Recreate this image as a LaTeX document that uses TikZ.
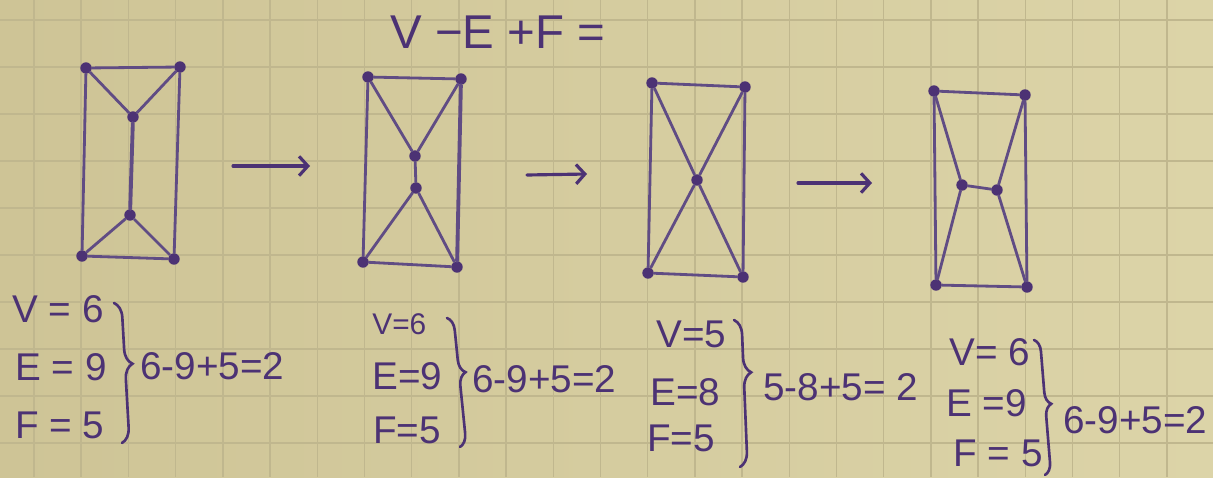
\documentclass[tikz,border=0pt]{standalone}
\usepackage{fontspec}
\setmainfont{Liberation Sans}
\usetikzlibrary{arrows.meta,decorations.pathreplacing}
\definecolor{paper}{RGB}{206,196,150}
\definecolor{paperlight}{RGB}{220,212,168}
\definecolor{gridc}{RGB}{192,183,142}
\definecolor{ink}{RGB}{76,50,116}
\definecolor{edgec}{RGB}{96,76,132}
\begin{document}
\begin{tikzpicture}[x=0.02cm,y=-0.02cm,
  vtx/.style={circle,fill=ink,inner sep=0pt,minimum size=6.5pt},
  edge/.style={draw=edgec,line width=1.6pt,line cap=round},
  lbl/.style={text=ink,font=\fontsize{22}{24}\selectfont,inner sep=0pt,anchor=west},
  small/.style={font=\fontsize{17}{19}\selectfont},
  ttl/.style={text=ink,font=\fontsize{27}{30}\selectfont,inner sep=0pt,anchor=west},
  arr/.style={draw=ink,line width=1.8pt,line cap=round,-{Straight Barb[length=5pt,width=11pt,line width=1.8pt]}},
  brc/.style={draw=ink,line width=1.5pt,line cap=round,decorate,decoration={brace,amplitude=#1}}
]
% paper
\useasboundingbox (0,0) rectangle (1213,477);
\shade[left color=paper,right color=paperlight] (0,0) rectangle (1213,477);
\foreach \k in {0,...,25} {\draw[gridc,line width=0.8pt] ({34+47.2*\k},0) -- ++(0,477);}
\foreach \k in {0,...,9} {\draw[gridc,line width=0.8pt] (0,{20+47*\k}) -- ++(1213,0);}

% title
\node[ttl] (title) at (390,32) {V −E +F =};

% graph 1
\node[vtx] (a1) at (86,68) {};
\node[vtx] (a2) at (180,67) {};
\node[vtx] (a3) at (133,117) {};
\node[vtx] (a4) at (130,215) {};
\node[vtx] (a5) at (82,256) {};
\node[vtx] (a6) at (174,259) {};
\draw[edge] (a1) -- (a2);
\draw[edge] (a1) -- (a3);
\draw[edge] (a2) -- (a3);
\draw[edge,line width=2.2pt] (a3) -- (a4);
\draw[edge] (a4) -- (a5);
\draw[edge] (a4) -- (a6);
\draw[edge] (a5) -- (a6);
\draw[edge] (a1) -- (a5);
\draw[edge] (a2) -- (a6);

% graph 2
\node[vtx] (b1) at (368,77) {};
\node[vtx] (b2) at (461,79) {};
\node[vtx] (b3) at (415,156) {};
\node[vtx] (b4) at (416,188) {};
\node[vtx] (b5) at (363,262) {};
\node[vtx] (b6) at (457,267) {};
\draw[edge] (b1) -- (b2);
\draw[edge] (b1) -- (b3);
\draw[edge] (b2) -- (b3);
\draw[edge] (b3) -- (b4);
\draw[edge] (b4) -- (b5);
\draw[edge] (b4) -- (b6);
\draw[edge] (b5) -- (b6);
\draw[edge] (b1) -- (b5);
\draw[edge,line width=2.2pt] (b2) -- (b6);

% graph 3
\node[vtx] (c1) at (652,83) {};
\node[vtx] (c2) at (745,87) {};
\node[vtx] (c3) at (697,180) {};
\node[vtx] (c4) at (648,273) {};
\node[vtx] (c5) at (743,277) {};
\draw[edge] (c1) -- (c2);
\draw[edge] (c1) -- (c3);
\draw[edge] (c2) -- (c3);
\draw[edge] (c3) -- (c4);
\draw[edge] (c3) -- (c5);
\draw[edge] (c4) -- (c5);
\draw[edge] (c1) -- (c4);
\draw[edge] (c2) -- (c5);

% graph 4
\node[vtx] (d1) at (934,91) {};
\node[vtx] (d2) at (1025,95) {};
\node[vtx] (d3) at (962,185) {};
\node[vtx] (d4) at (997,190) {};
\node[vtx] (d5) at (936,285) {};
\node[vtx] (d6) at (1027,287) {};
\draw[edge] (d1) -- (d2);
\draw[edge] (d1) -- (d3);
\draw[edge] (d2) -- (d4);
\draw[edge] (d3) -- (d4);
\draw[edge] (d3) -- (d5);
\draw[edge] (d4) -- (d6);
\draw[edge] (d5) -- (d6);
\draw[edge] (d1) -- (d5);
\draw[edge] (d2) -- (d6);

% arrows
\coordinate (p1s) at (233,166); \coordinate (p1e) at (310,166);
\coordinate (p2s) at (527,175); \coordinate (p2e) at (587,174);
\coordinate (p3s) at (798,183); \coordinate (p3e) at (872,183);
\draw[arr] (p1s) -- (p1e);
\draw[arr] (p2s) -- (p2e);
\draw[arr] (p3s) -- (p3e);

% block 1
\node[lbl] (v1) at (12,309) {V = 6};
\node[lbl] (e1) at (15,367) {E = 9};
\node[lbl] (f1) at (15,425) {F = 5};
\coordinate (r1t) at (114,303); \coordinate (r1b) at (122,443);
\draw[brc=0.3cm,decoration={aspect=0.44}] (r1t) -- (r1b);
\node[lbl] (q1) at (140,366) {6-9+5=2};

% block 2
\node[lbl,small] (v2) at (372,324) {V=6};
\node[lbl] (e2) at (372,376) {E=9};
\node[lbl] (f2) at (373,430) {F=5};
\coordinate (r2t) at (447,318); \coordinate (r2b) at (460,447);
\draw[brc=0.26cm,decoration={aspect=0.43}] (r2t) -- (r2b);
\node[lbl] (q2) at (472,379) {6-9+5=2};

% block 3
\node[lbl] (v3) at (656,334) {V=5};
\node[lbl] (e3) at (650,392) {E=8};
\node[lbl] (f3) at (647,438) {F=5};
\coordinate (r3t) at (734,320); \coordinate (r3b) at (740,467);
\draw[brc=0.3cm,decoration={aspect=0.36}] (r3t) -- (r3b);
\node[lbl] (q3) at (763,387) {5-8+5= 2};

% block 4
\node[lbl] (v4) at (949,352) {V= 6};
\node[lbl] (e4) at (946,403) {E =9};
\node[lbl] (f4) at (953,453) {F = 5};
\coordinate (r4t) at (1034,340); \coordinate (r4b) at (1045,475);
\draw[brc=0.24cm,decoration={aspect=0.48}] (r4t) -- (r4b);
\node[lbl] (q4) at (1063,420) {6-9+5=2};
\end{tikzpicture}
\end{document}
